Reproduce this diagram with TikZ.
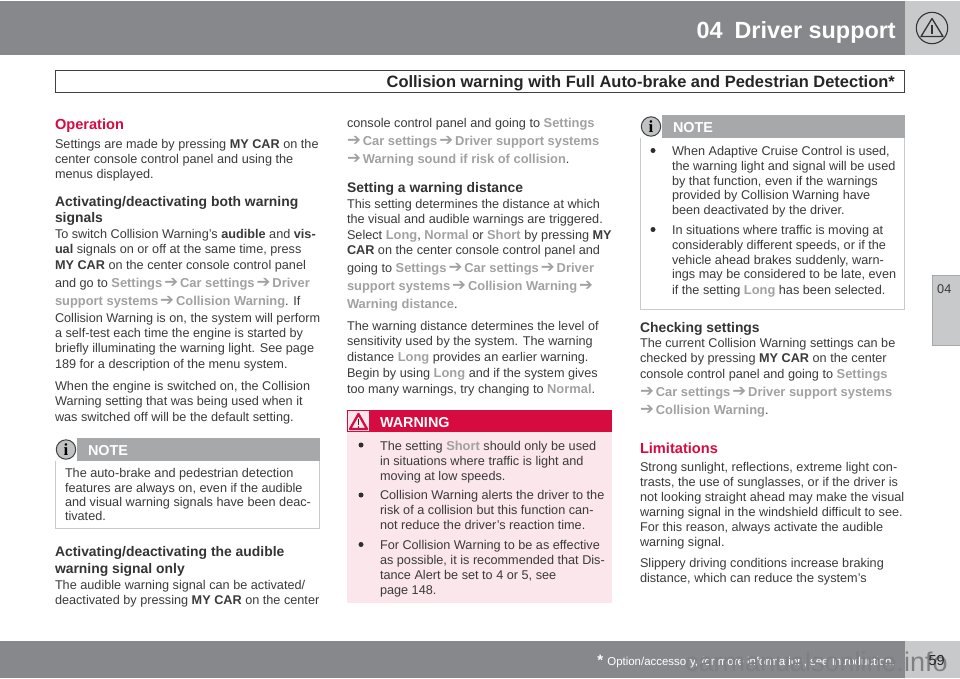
\documentclass[tikz,border=0pt]{standalone}
\usepackage{fontspec}
\setmainfont{Liberation Sans}
\newfontfamily\symfont{DejaVu Sans}
\newfontfamily\serifi{Liberation Serif}
\definecolor{band}{HTML}{87888B}
\definecolor{tabgray}{HTML}{C8C9CB}
\definecolor{notegray}{HTML}{A7A8AA}
\definecolor{noteline}{HTML}{C9CACC}
\definecolor{volvored}{HTML}{D60B3F}
\definecolor{pinkbg}{HTML}{FBE6EC}
\definecolor{bodytext}{HTML}{3A3A3C}
\definecolor{menugray}{HTML}{A0A1A3}
\definecolor{wmgray}{HTML}{7E7F82}
\newcommand{\mn}[1]{\textbf{\textcolor{menugray}{\fontsize{12.9}{14}\selectfont #1}}}
\newcommand{\arr}{\hspace{2pt}{\symfont\fontsize{16.5}{14}\selectfont\textcolor{menugray}{\symbol{"2794}}}\hspace{2pt}}
\newcommand{\bd}[1]{\textbf{#1}}
\newcommand{\apos}{\symbol{"27}}
\newcommand{\txt}[3]{\node[bodyline] at (#1,#2) {#3};}
\newcommand{\hd}[3]{\node[headline] at (#1,#2) {#3};}
\newcommand{\red}[3]{\node[redhead] at (#1,#2) {#3};}
\newcommand{\bul}[2]{\fill[bodytext!80!black] (#1,#2) circle (2.5pt);}
\begin{document}
\begin{tikzpicture}[x=1pt,y=-1pt,
  bodyline/.style={anchor=base west,inner sep=0pt,outer sep=0pt,font=\fontsize{12.68}{14}\selectfont,text=bodytext},
  headline/.style={anchor=base west,inner sep=0pt,outer sep=0pt,font=\fontsize{13.9}{15}\selectfont\bfseries,text=bodytext!90!black},
  redhead/.style={anchor=base west,inner sep=0pt,outer sep=0pt,font=\fontsize{14.6}{16}\selectfont\bfseries,text=volvored},
  boxhead/.style={anchor=base west,inner sep=0pt,outer sep=0pt,font=\fontsize{14.4}{16}\selectfont\bfseries,text=white}]
\useasboundingbox (0,0) rectangle (960,678);
% header
\fill[band] (0,1) rectangle (905,55);
\fill[tabgray] (905,1) rectangle (960,55);
\node[anchor=base east,inner sep=0pt,font=\fontsize{23.4}{26}\selectfont\bfseries,text=white] (title) at (896,38) {04\hspace{12pt}Driver support};
\draw[black!80,line width=1.1] (932,28) circle (15.7);
\draw[black!80,line width=1.3,line join=round] (932,18.5) -- (943,36.5) -- (921,36.5) -- cycle;
\draw[black!80,line width=1.5] (932,25) -- (932,34);
\draw[black!75,line width=0.9,fill=white] (55.5,70) rectangle (904,92);
\node[anchor=base east,inner sep=0pt,font=\fontsize{16.45}{18}\selectfont\bfseries,text=black!85] (sub) at (895,87) {Collision warning with Full Auto-brake and Pedestrian Detection*};
% side tab
\draw[notegray,line width=.8,fill=tabgray] (932.4,275.4) rectangle (961,345);
\node[anchor=base west,inner sep=0pt,font=\fontsize{12.7}{14}\selectfont,text=bodytext] (tab) at (937,293) {04};
% footer
\fill[band] (0,641) rectangle (905,678);
\fill[tabgray] (905,641) rectangle (960,678);
\node[anchor=base east,inner sep=0pt,font=\fontsize{11.45}{13}\selectfont,text=white] (foot) at (895,665.5) {\textbf{\fontsize{15}{15}\selectfont *}\hspace{1pt} Option/accessory, for more information, see Introduction.};
\node[anchor=base east,inner sep=0pt,font=\fontsize{27}{29}\selectfont,text=wmgray] (wm) at (948,671) {carmanualsonline.info};
\node[anchor=base east,inner sep=0pt,font=\fontsize{14.5}{15}\selectfont,text=black!85] (pg) at (945,665) {59};

% left column
\red{55}{129}{Operation}
\txt{55}{148}{Settings are made by pressing \bd{MY CAR} on the}
\txt{55}{163}{center console control panel and using the}
\txt{55}{178}{menus displayed.}
\hd{55}{206}{Activating/deactivating both warning}
\hd{55}{222}{signals}
\txt{55}{238}{To switch Collision Warning\apos s \bd{audible} and \bd{vis-}}
\txt{55}{253}{\bd{ual} signals on or off at the same time, press}
\txt{55}{269}{\bd{MY CAR} on the center console control panel}
\txt{55}{287}{and go to \mn{Settings}\arr\mn{Car settings}\arr\mn{Driver}}
\txt{55}{305}{\mn{support systems}\arr\mn{Collision Warning}. If}
\txt{55}{322}{Collision Warning is on, the system will perform}
\txt{55}{337}{a self-test each time the engine is started by}
\txt{55}{352}{briefly illuminating the warning light. See page}
\txt{55}{368}{189 for a description of the menu system.}
\txt{55}{390}{When the engine is switched on, the Collision}
\txt{55}{405}{Warning setting that was being used when it}
\txt{55}{421}{was switched off will be the default setting.}
% left note
\draw[noteline,line width=1,fill=white] (55.5,438.5) rectangle (319.5,528);
\fill[notegray] (55,438) rectangle (320,461);
\fill[white] (55,438) rectangle (77,461);
\draw[black!75,line width=1,fill=notegray!70] (66,449.5) circle (9.7pt);
\node[inner sep=0pt,font=\serifi\fontsize{17}{17}\selectfont\bfseries,text=black] (ni1) at (66,449.5) {i};
\node[boxhead] (n1) at (88,455) {NOTE};
\txt{65}{477}{The auto-brake and pedestrian detection}
\txt{65}{492}{features are always on, even if the audible}
\txt{65}{506}{and visual warning signals have been deac-}
\txt{65}{520}{tivated.}
\hd{55}{556}{Activating/deactivating the audible}
\hd{55}{573}{warning signal only}
\txt{55}{589}{The audible warning signal can be activated/}
\txt{55}{604}{deactivated by pressing \bd{MY CAR} on the center}

% middle column
\txt{347}{127}{console control panel and going to \mn{Settings}}
\txt{347}{145}{\hspace{-2pt}\arr\mn{Car settings}\arr\mn{Driver support systems}}
\txt{347}{163}{\hspace{-2pt}\arr\mn{Warning sound if risk of collision}.}
\hd{347}{192}{Setting a warning distance}
\txt{347}{208}{This setting determines the distance at which}
\txt{347}{223}{the visual and audible warnings are triggered.}
\txt{347}{239}{Select \mn{Long}, \mn{Normal} or \mn{Short} by pressing \bd{MY}}
\txt{347}{254}{\bd{CAR} on the center console control panel and}
\txt{347}{272}{going to \mn{Settings}\arr\mn{Car settings}\arr\mn{Driver}}
\txt{347}{290}{\mn{support systems}\arr\mn{Collision Warning}\arr}
\txt{347}{308}{\mn{Warning distance}.}
\txt{347}{330}{The warning distance determines the level of}
\txt{347}{345}{sensitivity used by the system. The warning}
\txt{347}{361}{distance \mn{Long} provides an earlier warning.}
\txt{347}{377}{Begin by using \mn{Long} and if the system gives}
\txt{347}{393}{too many warnings, try changing to \mn{Normal}.}
% warning box
\fill[pinkbg] (347,410) rectangle (612,603);
\fill[volvored] (347,410) rectangle (612,432);
\fill[pinkbg] (348,411) rectangle (369,431);
\draw[volvored,line width=2.3,line join=round] (358.5,414) -- (367,429) -- (350,429) -- cycle;
\draw[black!85,line width=1.6] (358.5,418.5) -- (358.5,424.5);
\fill[black!85] (358.5,427) circle (0.9pt);
\node[boxhead] (w1) at (380,427) {WARNING};
\bul{361}{445}
\txt{380}{450}{The setting \mn{Short} should only be used}
\txt{380}{465}{in situations where traffic is light and}
\txt{380}{480}{moving at low speeds.}
\bul{361}{495}
\txt{380}{499}{Collision Warning alerts the driver to the}
\txt{380}{514}{risk of a collision but this function can-}
\txt{380}{529}{not reduce the driver’s reaction time.}
\bul{361}{544.5}
\txt{380}{549}{For Collision Warning to be as effective}
\txt{380}{564}{as possible, it is recommended that Dis-}
\txt{380}{579}{tance Alert be set to 4 or 5, see}
\txt{380}{594}{page 148.}

% right column note
\draw[noteline,line width=1,fill=white] (640.5,115.5) rectangle (904,309);
\fill[notegray] (640,115) rectangle (905,138);
\fill[white] (640,115) rectangle (662,138);
\draw[black!75,line width=1,fill=notegray!70] (651,126.5) circle (9.7pt);
\node[inner sep=0pt,font=\serifi\fontsize{17}{17}\selectfont\bfseries,text=black] (ni2) at (651,126.5) {i};
\node[boxhead] (n2) at (673,132) {NOTE};
\bul{653}{150.5}
\txt{672}{155}{When Adaptive Cruise Control is used,}
\txt{672}{170}{the warning light and signal will be used}
\txt{672}{185}{by that function, even if the warnings}
\txt{672}{199}{provided by Collision Warning have}
\txt{672}{214}{been deactivated by the driver.}
\bul{653}{229.5}
\txt{672}{234}{In situations where traffic is moving at}
\txt{672}{249}{considerably different speeds, or if the}
\txt{672}{264}{vehicle ahead brakes suddenly, warn-}
\txt{672}{278}{ings may be considered to be late, even}
\txt{672}{294}{if the setting \mn{Long} has been selected.}
\hd{640}{332}{Checking settings}
\txt{640}{347}{The current Collision Warning settings can be}
\txt{640}{362}{checked by pressing \bd{MY CAR} on the center}
\txt{640}{378}{console control panel and going to \mn{Settings}}
\txt{640}{396}{\hspace{-2pt}\arr\mn{Car settings}\arr\mn{Driver support systems}}
\txt{640}{414}{\hspace{-2pt}\arr\mn{Collision Warning}.}
\red{640}{453}{Limitations}
\txt{640}{471}{Strong sunlight, reflections, extreme light con-}
\txt{640}{486}{trasts, the use of sunglasses, or if the driver is}
\txt{640}{501}{not looking straight ahead may make the visual}
\txt{640}{516}{warning signal in the windshield difficult to see.}
\txt{640}{531}{For this reason, always activate the audible}
\txt{640}{546}{warning signal.}
\txt{640}{567}{Slippery driving conditions increase braking}
\txt{640}{582}{distance, which can reduce the system\apos s}
\end{tikzpicture}
\end{document}
